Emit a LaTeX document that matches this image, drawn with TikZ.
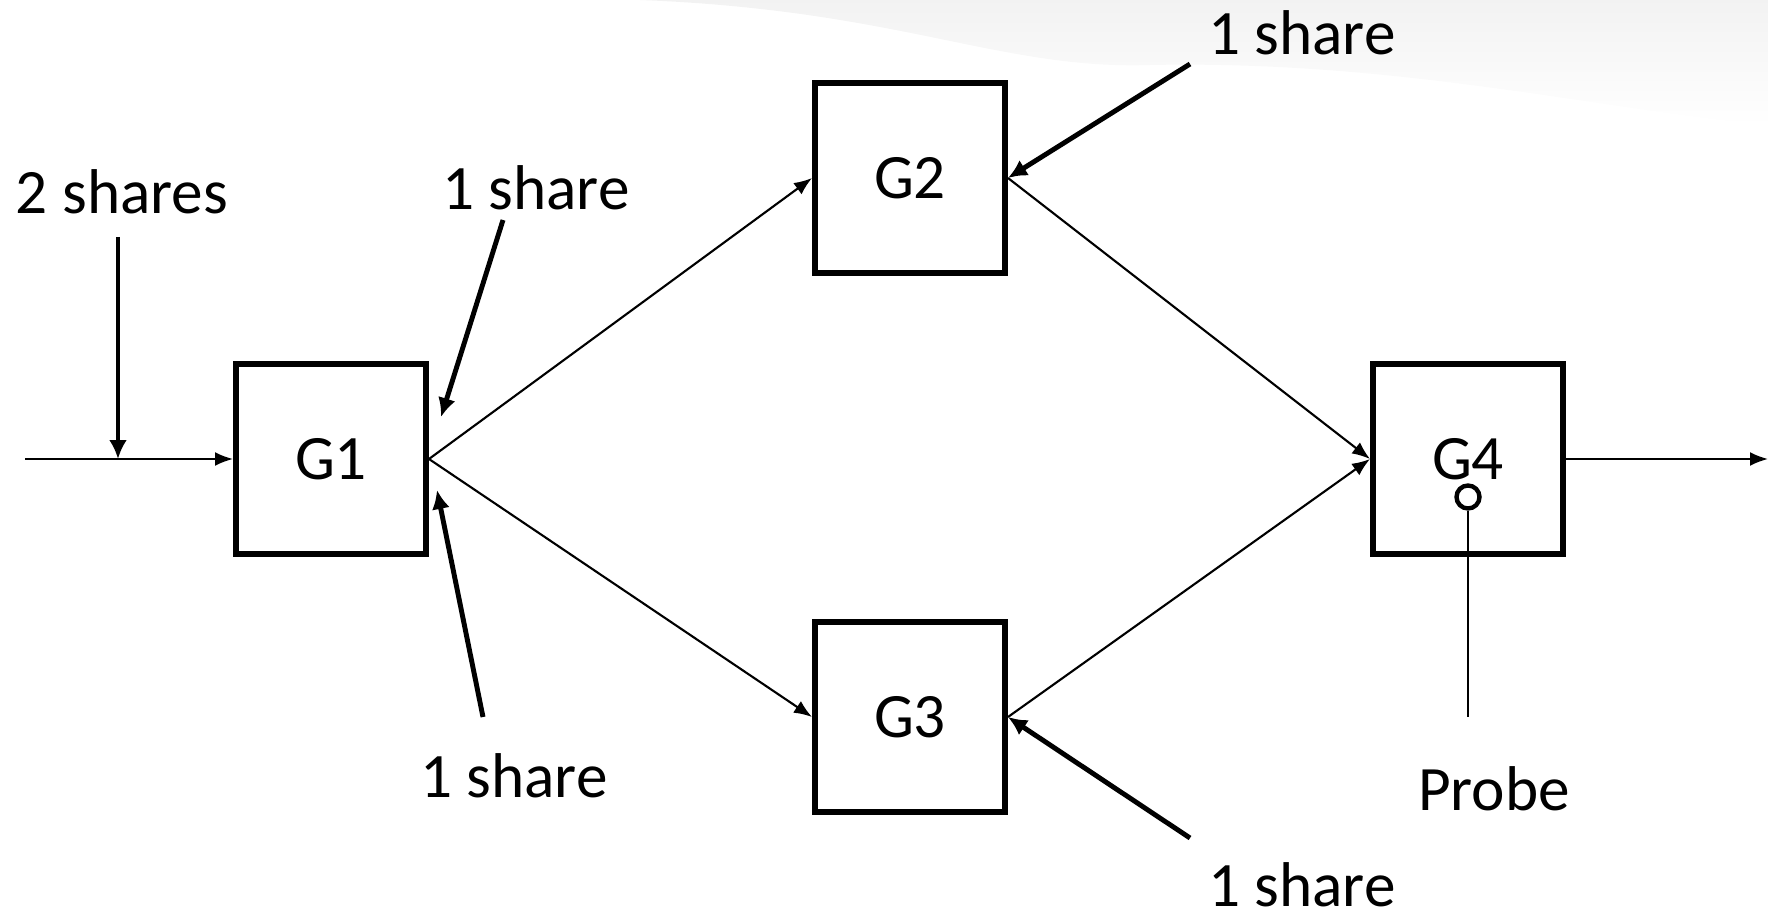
\documentclass[tikz,border=0pt]{standalone}
\usepackage{fontspec}
\setmainfont{Carlito}
\usetikzlibrary{arrows.meta,positioning}

\begin{document}
\begin{tikzpicture}[x=0.02cm,y=-0.02cm,
    gate/.style={draw, line width=3.4pt, minimum size=3.8cm, inner sep=0pt,
      font=\fontsize{36}{43}\selectfont},
    lbl/.style={font=\fontsize{36}{43}\selectfont},
    flow/.style={-{Latex[length=0.36cm,width=0.28cm]}, line width=1.2pt},
    share/.style={-{Latex[length=0.38cm,width=0.36cm]}, line width=2.8pt}]

    \useasboundingbox (0,0) rectangle (1768,915);

    % slide background
    \shade[top color=black!5, bottom color=white, draw=none]
      (640,0) .. controls (900,10) and (1000,70) .. (1150,65)
      .. controls (1400,60) and (1600,110) .. (1768,125) -- (1768,0) -- cycle;

    % gates
    \node[gate] (g1) at (331,459) {G1};
    \node[gate] (g2) at (910,178) {G2};
    \node[gate] (g3) at (910,717) {G3};
    \node[gate] (g4) at (1468,459) {G4};

    % labels
    \node[lbl] (l0) at (122,192) {2 shares};
    \node[lbl] (l1a) at (536,188) {1 share};
    \node[lbl] (l1b) at (514,776) {1 share};
    \node[lbl] (l2) at (1302,33) {1 share};
    \node[lbl] (l3) at (1302,885) {1 share};
    \node[lbl] (lp) at (1494,789) {Probe};

    % free ends
    \coordinate (in) at (25,459);
    \coordinate (out) at (1768,459);
    \coordinate (s0) at (118,237);
    \coordinate (j0) at (118,459);
    \coordinate (s1a) at (503,220);
    \coordinate (t1a) at (441,417);
    \coordinate (s1b) at (483,717);
    \coordinate (t1b) at (437,490);
    \coordinate (s2) at (1190,64);
    \coordinate (s3) at (1190,838);
    \coordinate (pe) at (1468,717);

    % signal flow
    \draw[flow] (in) -- (g1);
    \draw[flow] (g1.east) -- (g2.west);
    \draw[flow] (g1.east) -- (g3.west);
    \draw[flow] (g2.east) -- (g4.west);
    \draw[flow] (g3.east) -- (g4.west);
    \draw[flow] (g4) -- (out);

    % shares
    \draw[share] (s0) -- (j0);
    \draw[share] (s1a) -- (t1a);
    \draw[share] (s1b) -- (t1b);
    \draw[share] (s2) -- (g2.east);
    \draw[share] (s3) -- (g3.east);

    % probe
    \node[circle, draw, line width=2.5pt, minimum size=0.46cm, inner sep=0pt] (pb) at (1468,497) {};
    \draw[line width=1.2pt] (pb) -- (pe);

  \end{tikzpicture}
\end{document}
